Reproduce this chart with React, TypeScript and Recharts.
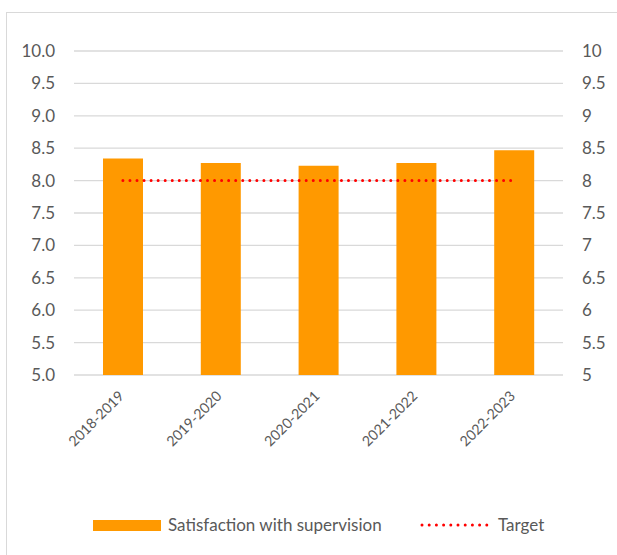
import React from 'react';
import { ComposedChart, Bar, Line, XAxis, YAxis, CartesianGrid, Legend } from 'recharts';

const years = ['2018-2019', '2019-2020', '2020-2021', '2021-2022', '2022-2023'];
const satisfaction = [8.34, 8.27, 8.23, 8.27, 8.47];
const target = [8, 8, 8, 8, 8];
const yTicks = [5, 5.5, 6, 6.5, 7, 7.5, 8, 8.5, 9, 9.5, 10];

const data = years.map((year, i) => ({ year, satisfaction: satisfaction[i], target: target[i] }));

const FONT = 'Lato, "Open Sans", sans-serif';
const TEXT = '#595959';
const ORANGE = '#FF9900';

const XTick = ({ x, y, payload }: any) => {
  const ax = x + 2;
  const ay = y + 22;
  return (
    <text
      x={ax}
      y={ay}
      transform={`rotate(-45, ${ax}, ${ay})`}
      textAnchor="end"
      fill={TEXT}
      fontSize={14.2}
      fontFamily={FONT}
    >
      {payload.value}
    </text>
  );
};

const LegendContent = () => (
  <div style={{ position: 'relative', height: 30, width: 617, fontFamily: FONT, fontSize: 17, color: TEXT }}>
    <div style={{ position: 'absolute', left: 93, top: 10, width: 68, height: 11, background: ORANGE }} />
    <span style={{ position: 'absolute', left: 168, top: 4, whiteSpace: 'nowrap' }}>Satisfaction with supervision</span>
    <svg style={{ position: 'absolute', left: 420, top: 9 }} width={70} height={12}>
      <line x1={2} y1={6} x2={68} y2={6} stroke="#FF0000" strokeWidth={3} strokeDasharray="0 7.2" strokeLinecap="round" />
    </svg>
    <span style={{ position: 'absolute', left: 498, top: 4 }}>Target</span>
  </div>
);

const App = () => {
  return (
    <div style={{ position: 'absolute', left: 0, top: 0, width: 617, height: 555, background: '#fff' }}>
      <div
        style={{
          position: 'absolute',
          left: 6,
          top: 12,
          right: 0,
          bottom: 0,
          borderLeft: '1px solid #D9D9D9',
          borderTop: '1px solid #D9D9D9',
        }}
      />
      <ComposedChart
        width={617}
        height={555}
        data={data}
        margin={{ top: 51, right: 0, bottom: 0, left: 0 }}
        style={{ position: 'absolute', left: 0, top: 0 }}
      >
        <CartesianGrid vertical={false} stroke="#D9D9D9" strokeWidth={1.3} yAxisId="left" />
        <XAxis
          dataKey="year"
          height={150}
          tickLine={false}
          axisLine={false}
          tickSize={0}
          tickMargin={0}
          interval={0}
          tick={<XTick />}
        />
        <YAxis
          yAxisId="left"
          domain={[5, 10]}
          ticks={yTicks}
          width={74}
          tickLine={false}
          axisLine={false}
          tickSize={0}
          tickMargin={19}
          tickFormatter={(v: number) => v.toFixed(1)}
          tick={{ fill: TEXT, fontSize: 17, fontFamily: FONT }}
        />
        <YAxis
          yAxisId="right"
          orientation="right"
          domain={[5, 10]}
          ticks={yTicks}
          width={54}
          tickLine={false}
          axisLine={false}
          tickSize={0}
          tickMargin={19}
          tickFormatter={(v: number) => String(v)}
          tick={{ fill: TEXT, fontSize: 17, fontFamily: FONT }}
        />
        <Bar
          yAxisId="left"
          dataKey="satisfaction"
          name="Satisfaction with supervision"
          fill={ORANGE}
          barSize={40}
          isAnimationActive={false}
        />
        <Line
          yAxisId="right"
          dataKey="target"
          name="Target"
          stroke="#FF0000"
          strokeWidth={3}
          strokeDasharray="0 7.05"
          strokeLinecap="round"
          dot={false}
          activeDot={false}
          isAnimationActive={false}
        />
        <Legend
          content={<LegendContent />}
          wrapperStyle={{ top: 510, left: 0, width: 617, height: 30 }}
        />
      </ComposedChart>
    </div>
  );
};

export default App;
